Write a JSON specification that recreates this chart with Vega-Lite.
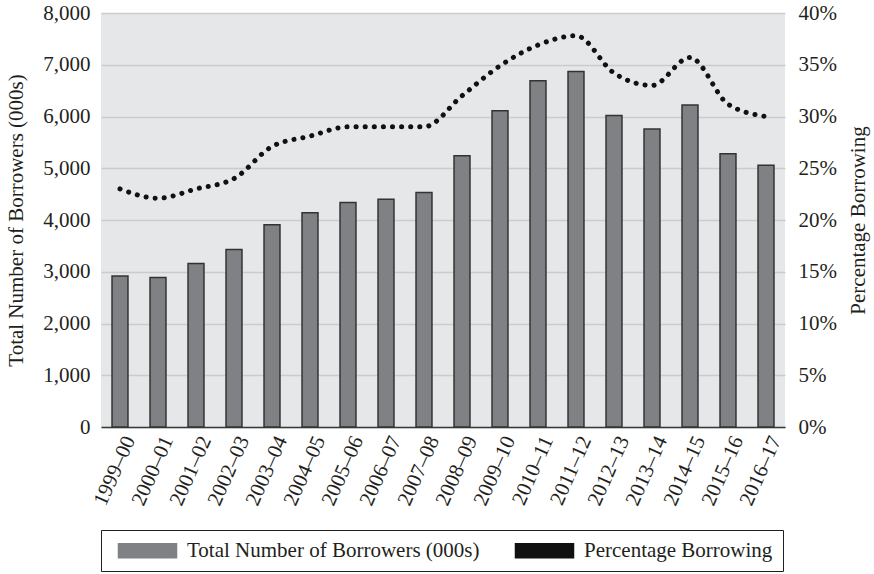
{
  "$schema": "https://vega.github.io/schema/vega-lite/v6.json",
  "width": 684,
  "height": 414,
  "autosize": {"type": "none"},
  "padding": {"left": 101, "top": 13, "right": 89, "bottom": 147},
  "background": "white",
  "config": {
    "font": "Liberation Serif",
    "view": {"fill": "#e6e7e8", "stroke": null},
    "axis": {
      "labelFont": "Liberation Serif",
      "titleFont": "Liberation Serif",
      "labelFontSize": 21,
      "titleFontSize": 21,
      "labelColor": "#231f20",
      "titleColor": "#231f20",
      "titleFontWeight": "normal",
      "ticks": false
    }
  },
  "data": {
    "values": [
      {"year": "1999–00", "borrowers": 2920, "pct": 0.23},
      {"year": "2000–01", "borrowers": 2890, "pct": 0.221},
      {"year": "2001–02", "borrowers": 3160, "pct": 0.23},
      {"year": "2002–03", "borrowers": 3430, "pct": 0.24},
      {"year": "2003–04", "borrowers": 3910, "pct": 0.271},
      {"year": "2004–05", "borrowers": 4140, "pct": 0.281},
      {"year": "2005–06", "borrowers": 4340, "pct": 0.29},
      {"year": "2006–07", "borrowers": 4400, "pct": 0.29},
      {"year": "2007–08", "borrowers": 4530, "pct": 0.29},
      {"year": "2008–09", "borrowers": 5240, "pct": 0.32},
      {"year": "2009–10", "borrowers": 6110, "pct": 0.349},
      {"year": "2010–11", "borrowers": 6690, "pct": 0.369},
      {"year": "2011–12", "borrowers": 6870, "pct": 0.378},
      {"year": "2012–13", "borrowers": 6020, "pct": 0.342},
      {"year": "2013–14", "borrowers": 5760, "pct": 0.33},
      {"year": "2014–15", "borrowers": 6220, "pct": 0.357},
      {"year": "2015–16", "borrowers": 5280, "pct": 0.312},
      {"year": "2016–17", "borrowers": 5060, "pct": 0.30}
    ]
  },
  "layer": [
    {
      "mark": {"type": "bar", "stroke": "#333333", "strokeWidth": 1.5},
      "encoding": {
        "x": {
          "field": "year", "type": "ordinal", "sort": null,
          "scale": {"paddingInner": 0.58, "paddingOuter": 0.29},
          "axis": {"title": null, "labelAngle": -66, "labelPadding": 10, "labelOffset": 10, "domain": true, "domainColor": "#3a3a3a", "domainWidth": 1.5, "grid": false}
        },
        "y": {
          "field": "borrowers", "type": "quantitative",
          "scale": {"domain": [0, 8000]},
          "axis": {
            "title": "Total Number of Borrowers (000s)",
            "values": [0, 1000, 2000, 3000, 4000, 5000, 6000, 7000, 8000],
            "format": ",.0f", "domain": false, "grid": true,
            "gridColor": "#cbcbcd", "gridWidth": 1.5,
            "labelPadding": 11, "titlePadding": 16
          }
        },
        "color": {
          "datum": "Total Number of Borrowers (000s)",
          "scale": {"domain": ["Total Number of Borrowers (000s)", "Percentage Borrowing"], "range": ["#808184", "#111111"]},
          "legend": {
            "orient": "none", "legendX": 0, "legendY": 517,
            "direction": "horizontal", "title": null,
            "strokeColor": "#231f20", "padding": 10,
            "labelFont": "Liberation Serif", "labelFontSize": 21, "labelColor": "#231f20", "labelLimit": 500,
            "symbolSize": 256, "symbolStrokeWidth": 1.5, "symbolOffset": 26,
            "labelOffset": 29, "columnPadding": 28,
            "symbolType": "M-3.625,-0.875H3.625V0.875H-3.625Z",
            "encode": {
              "symbols": {
                "shape": {"condition": {"test": "datum.index === 1 || indexof(datum.label, 'Percentage') >= 0", "value": "M-3.625,0H3.625"}, "value": "M-3.625,-0.875H3.625V0.875H-3.625Z"},
                "fillOpacity": {"condition": {"test": "datum.index === 1 || indexof(datum.label, 'Percentage') >= 0", "value": 0}, "value": 1},
                "strokeWidth": {"condition": {"test": "datum.index === 1 || indexof(datum.label, 'Percentage') >= 0", "value": 5}, "value": 1.5},
                "strokeDash": {"condition": {"test": "datum.index === 1 || indexof(datum.label, 'Percentage') >= 0", "value": [0.1, 9.5]}, "value": [1, 0]},
                "strokeCap": {"value": "round"}
              }
            }
          }
        }
      }
    },
    {
      "mark": {"type": "line", "interpolate": "monotone", "strokeDash": [0.1, 9], "strokeCap": "round", "strokeWidth": 5},
      "encoding": {
        "x": {"field": "year", "type": "ordinal", "sort": null},
        "y": {
          "field": "pct", "type": "quantitative",
          "scale": {"domain": [0, 0.4]},
          "axis": {
            "orient": "right", "title": "Percentage Borrowing",
            "values": [0, 0.05, 0.1, 0.15, 0.2, 0.25, 0.3, 0.35, 0.4],
            "format": ".0%", "domain": false, "grid": false,
            "labelPadding": 13, "titlePadding": 11, "titleAngle": 270, "titleBaseline": "top"
          }
        },
        "color": {"datum": "Percentage Borrowing"}
      }
    }
  ],
  "resolve": {"scale": {"y": "independent"}}
}
